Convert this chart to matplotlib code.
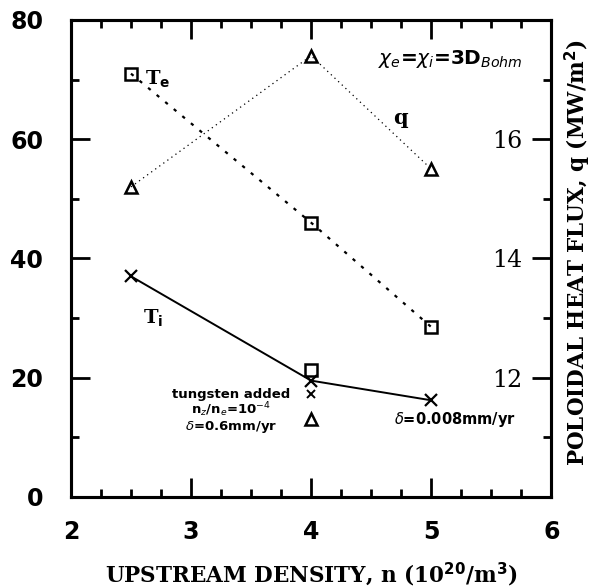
import matplotlib
matplotlib.use('Agg')
import matplotlib.pyplot as plt
from matplotlib.ticker import MultipleLocator

# upstream density (10^20/m^3)
n = [2.5, 4.0, 5.0]
Te = [71.0, 46.0, 28.5]
Ti = [37.0, 19.5, 16.2]
q = [15.2, 17.4, 15.5]
# tungsten added case at n=4
n_w = [4.0]
Te_w = [21.3]
Ti_w = [17.2]
q_w = [11.3]

fig = plt.figure(figsize=(5.96, 5.88), dpi=100)
ax = fig.add_axes([0.119, 0.155, 0.806, 0.811])
ax2 = ax.twinx()

ax.plot(n, Te, color='black', ls=(0, (1.5, 3.5)), lw=1.6, marker='s', ms=8,
        mfc='none', mew=1.8)
ax.plot(n, Ti, color='black', ls='-', lw=1.4, marker='x', ms=8, mew=1.6)
ax2.plot(n, q, color='black', ls=(0, (1, 3)), lw=0.9, marker='^', ms=9,
         mfc='none', mew=1.8)
ax.plot(n_w, Te_w, ls='none', color='black', marker='s', ms=8, mfc='none', mew=1.8)
ax.plot(n_w, Ti_w, ls='none', color='black', marker='x', ms=6, mew=1.4)
ax2.plot(n_w, q_w, ls='none', color='black', marker='^', ms=9, mfc='none', mew=1.8)

ax.set_xlim(2, 6)
ax.set_ylim(0, 80)
ax2.set_ylim(10, 18)

ax.xaxis.set_major_locator(MultipleLocator(1))
ax.xaxis.set_minor_locator(MultipleLocator(0.25))
ax.yaxis.set_major_locator(MultipleLocator(20))
ax.yaxis.set_minor_locator(MultipleLocator(10))
ax2.yaxis.set_major_locator(MultipleLocator(2))
ax2.yaxis.set_minor_locator(MultipleLocator(1))
ax2.set_yticks([12, 14, 16])

for a in (ax, ax2):
    for s in a.spines.values():
        s.set_linewidth(2.2)

ax.tick_params(axis='both', which='both', direction='in', top=True, right=False,
               width=2)
ax.tick_params(axis='both', which='major', length=14)
ax.tick_params(axis='both', which='minor', length=6)
ax.tick_params(axis='y', labelsize=17, pad=20)
ax.tick_params(axis='x', labelsize=17, pad=17)
for lab in ax.get_xticklabels() + ax.get_yticklabels():
    lab.set_fontweight('bold')

ax2.tick_params(axis='y', which='both', direction='in', width=2)
ax2.tick_params(axis='y', which='major', length=14, labelsize=17, pad=-21)
ax2.tick_params(axis='y', which='minor', length=6)
for lab in ax2.get_yticklabels():
    lab.set_fontfamily('DejaVu Serif')
    lab.set_horizontalalignment('right')

ax.set_xlabel(r'UPSTREAM DENSITY, n (10$^{\mathbf{20}}$/m$^{\mathbf{3}}$)',
              fontsize=15.5, fontweight='bold', family='DejaVu Serif', labelpad=12)
fig.text(0.970, 0.571, r'POLOIDAL HEAT FLUX, q (MW/m$^{\mathbf{2}}$)', rotation=90,
         fontsize=15.5, fontweight='bold', family='DejaVu Serif',
         ha='center', va='center')

ax.text(2.62, 70, r'T$_\mathbf{e}$', fontsize=14, fontweight='bold',
        family='DejaVu Serif', va='center')
ax.text(2.6, 30, r'T$_\mathbf{i}$', fontsize=14, fontweight='bold',
        family='DejaVu Serif', va='center')
ax.text(4.68, 63.5, 'q', fontsize=15, fontweight='bold', family='DejaVu Serif',
        va='center')
ax.text(4.56, 73.5, r'$\chi_e$=$\chi_i$=3D$_{Bohm}$', fontsize=14.5,
        fontweight='bold', va='center')
ax.text(3.33, 14.3, 'tungsten added\n' + r'n$_z$/n$_e$=10$^{-4}$' + '\n' +
        r'$\delta$=0.6mm/yr', fontsize=9.5, fontweight='bold', ha='center',
        va='center', linespacing=0.95)
ax.text(5.2, 12.9, r'$\delta$=0.008mm/yr', fontsize=10.5, fontweight='bold',
        ha='center', va='center')

fig.savefig('out.png', dpi=100)
